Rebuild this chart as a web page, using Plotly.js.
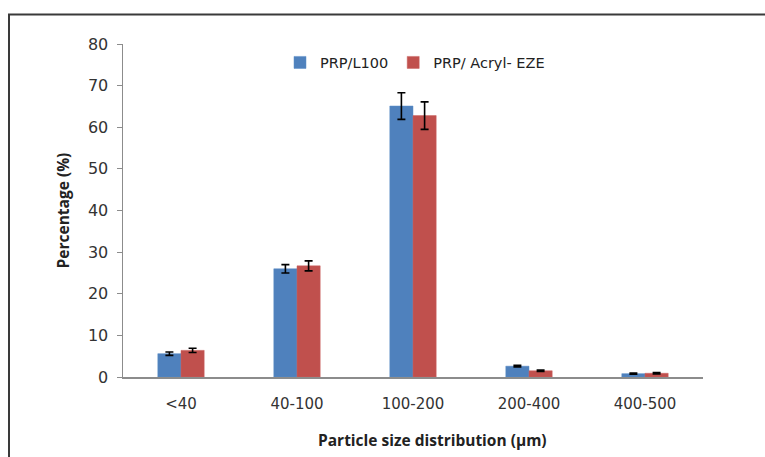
<!DOCTYPE html>
<html>
<head>
<meta charset="utf-8">
<script src="https://cdn.plot.ly/plotly-3.0.1.min.js"></script>
<style>html,body{margin:0;padding:0;background:#fff;}#chart{width:765px;height:457px;}</style>
</head>
<body>
<div id="chart"></div>
<script>
const categories = ["<40", "40-100", "100-200", "200-400", "400-500"];
const seriesNames = ["PRP/L100", "PRP/ Acryl- EZE"];
const l100 = [5.6, 26.0, 65.1, 2.6, 0.8];
const l100Err = [0.4, 1.0, 3.2, 0.2, 0.15];
const acryl = [6.4, 26.7, 62.8, 1.5, 0.9];
const acrylErr = [0.5, 1.2, 3.3, 0.15, 0.15];
const yTicks = [0, 10, 20, 30, 40, 50, 60, 70, 80];
const xTitle = "Particle size distribution (µm)";
const yTitle = "Percentage (%)";

const W = 765, H = 457;
const mL = 123, mR = 62, mT = 43.5, mB = 80.3;
const pw = W - mL - mR, ph = H - mT - mB;
const px = v => (v - mL) / pw;
const py = v => (H - mB - v) / ph;

const errStyle = {type: 'data', visible: true, color: '#000', thickness: 1.6, width: 4};

const traces = [
  {type: 'bar', name: seriesNames[0], x: categories, y: l100,
   error_y: Object.assign({array: l100Err}, errStyle),
   marker: {color: '#4F81BD', line: {color: '#5B8CC6', width: 0.5}}},
  {type: 'bar', name: seriesNames[1], x: categories, y: acryl,
   error_y: Object.assign({array: acrylErr}, errStyle),
   marker: {color: '#C0504D', line: {color: '#CB6360', width: 0.5}}}
];

const layout = {
  width: W, height: H,
  margin: {l: mL, r: mR, t: mT, b: mB, pad: 0},
  paper_bgcolor: '#fff', plot_bgcolor: '#fff',
  font: {family: 'DejaVu Sans, sans-serif', color: '#404040', size: 14},
  barmode: 'group', bargap: 0.6, bargroupgap: 0,
  showlegend: true,
  legend: {orientation: 'h', x: px(280), y: py(62), xanchor: 'left', yanchor: 'middle',
    font: {size: 14.5, color: '#222'}, bgcolor: 'rgba(0,0,0,0)', itemwidth: 30,
    traceorder: 'normal'},
  xaxis: {
    type: 'category', showgrid: false, zeroline: false,
    showline: true, linecolor: '#8C8C8C', linewidth: 1.5,
    ticks: '', tickfont: {size: 15, color: '#333'}, ticklabelstandoff: 12
  },
  yaxis: {
    range: [0, 80], tickvals: yTicks, showgrid: false, zeroline: false,
    showline: true, linecolor: '#8C8C8C', linewidth: 1.5,
    ticks: 'outside', ticklen: 5, tickcolor: '#8C8C8C', tickwidth: 1,
    tickfont: {size: 16, color: '#333'}, ticklabelstandoff: 5,
    title: {text: '<b>' + yTitle + '</b>', font: {family: 'Open Sans, sans-serif', size: 15.5, color: '#222'}, standoff: 14}
  },
  annotations: [
    {xref: 'paper', yref: 'paper', x: px(432.5), y: py(440), xanchor: 'center', yanchor: 'middle',
     showarrow: false, text: '<b>' + xTitle + '</b>',
     font: {family: 'Open Sans, sans-serif', size: 15.5, color: '#222'}}
  ],
  shapes: [
    {type: 'path', xref: 'paper', yref: 'paper',
     path: 'M ' + px(770) + ',' + py(14) + ' L ' + px(9) + ',' + py(14) + ' L ' + px(9) + ',' + py(465),
     line: {color: '#3a3a3a', width: 2}}
  ]
};

Plotly.newPlot('chart', traces, layout, {staticPlot: true, displayModeBar: false});
</script>
</body>
</html>
